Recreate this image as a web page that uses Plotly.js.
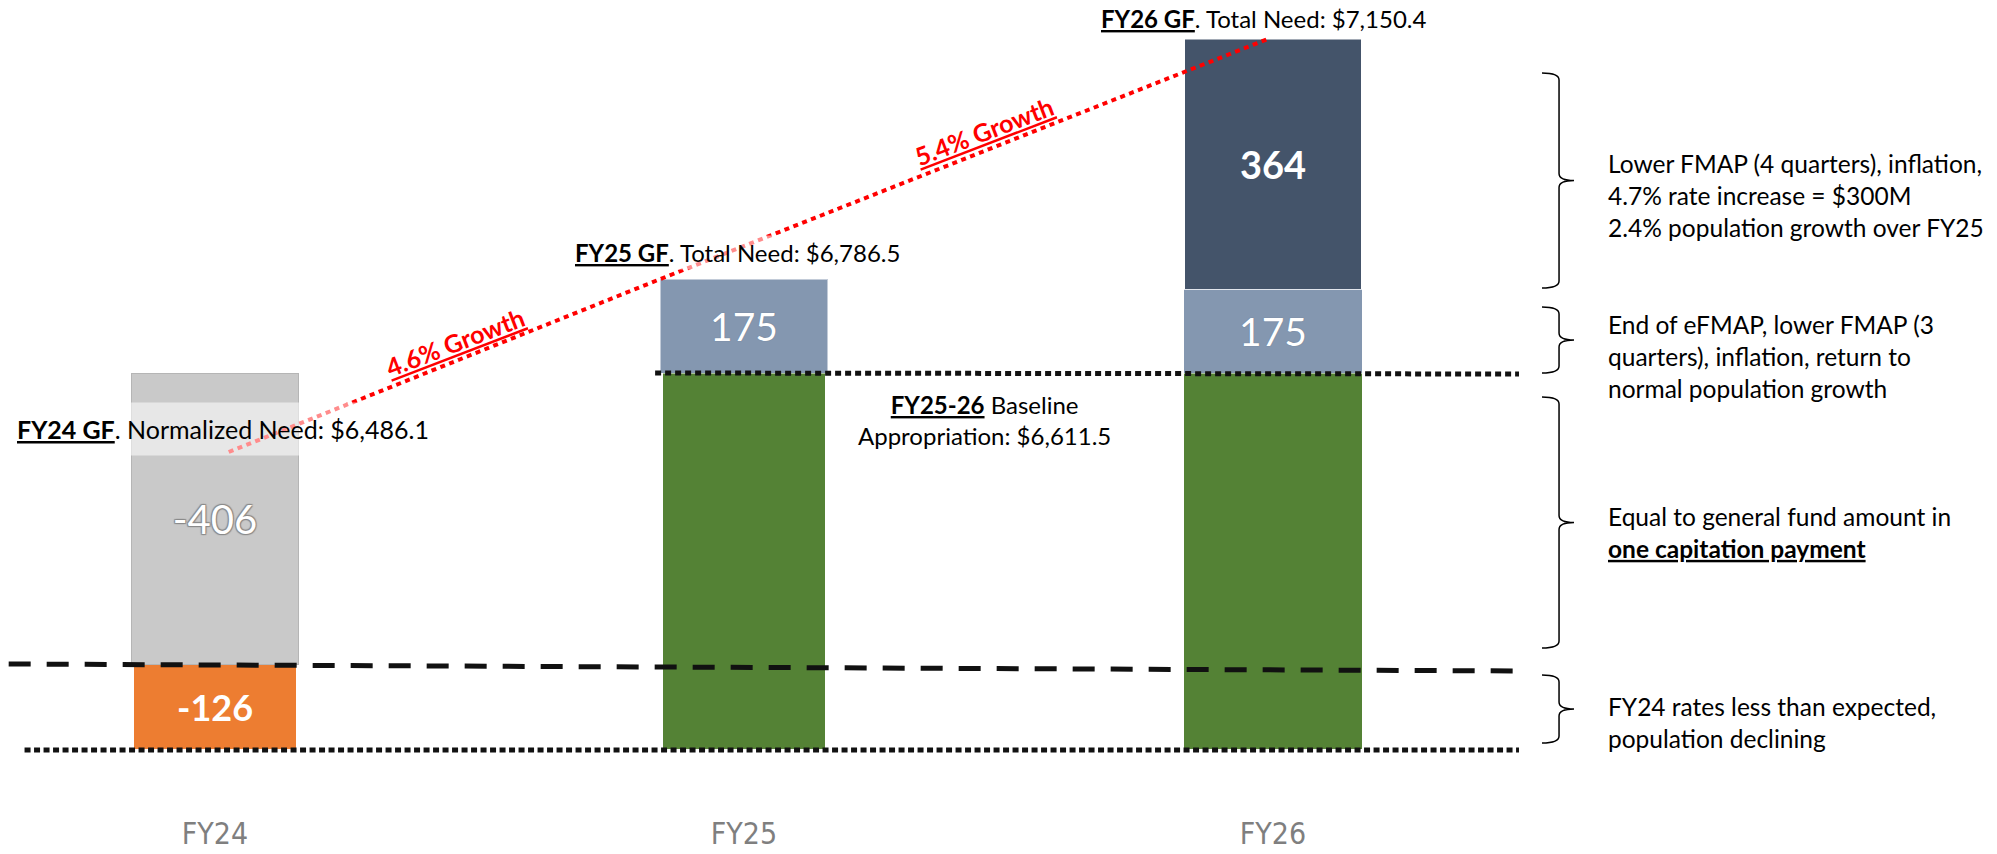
<!DOCTYPE html>
<html>
<head>
<meta charset="utf-8">
<script src="https://cdn.plot.ly/plotly-3.0.1.min.js"></script>
<style>
  html, body { margin: 0; padding: 0; background: #fff; }
  #plot { width: 1997px; height: 854px; }
</style>
</head>
<body>
<div id="plot"></div>
<script>
// Data (the slide is a schematic: block heights are the drawn heights, labels are $M)
var categories = ["FY24", "FY25", "FY26"];
var xPos = [0, 1, 2];

var fy24Labels = ["-126", "-406"];
var incLabels175 = ["175", "175"];
var incLabel364 = "364";

var orangeH = [85, null, null];
var grayH = [291, null, null];
var greenH = [null, 376, 376];
var blueH = [null, 94, 84];
var darkH = [null, null, 250];

var orangeW = [0.306, null, null];
var grayW = [0.314, null, null];
var greenW = [null, 0.305, 0.338];
var blueW = [null, 0.316, 0.338];
var darkW = [null, null, 0.333];

var growthStartY = 297;          // FY24 normalized need point
var braceTop = [676, 442, 352, 74];
var braceBottom = [461, 376, 101, 6];

var noteText = [
  "Lower FMAP (4 quarters), inflation,<br>4.7% rate increase = $300M<br>2.4% population growth over FY25",
  "End of eFMAP, lower FMAP (3<br>quarters), inflation, return to<br>normal population growth",
  "Equal to general fund amount in<br><b><u>one capitation payment</u></b>",
  "FY24 rates less than expected,<br>population declining"
];
var noteY = [554, 393, 217, 27];

// helpers
var outline = "1px 1px 1px #8a8a8a, -1px -1px 1px #8a8a8a, 1px -1px 1px #8a8a8a, -1px 1px 1px #8a8a8a";

function barTrace(h, w, color, labels, font, line) {
  return {
    type: "bar",
    x: xPos,
    y: h,
    width: w,
    text: labels,
    textposition: "inside",
    insidetextanchor: "middle",
    textangle: 0,
    constraintext: "none",
    insidetextfont: font,
    marker: { color: color, line: line || { width: 0 } },
    hoverinfo: "skip",
    showlegend: false
  };
}

var orange = barTrace(orangeH, orangeW, "#ed7d31", [fy24Labels[0], "", ""],
  { family: "Lato", size: 36, color: "#ffffff", weight: "bold" });
var green = barTrace(greenH, greenW, "#548235", ["", "", ""],
  { family: "Lato", size: 10, color: "#ffffff" });
var gray = barTrace(grayH, grayW, "#c9c9c9", [fy24Labels[1], "", ""],
  { family: "Lato", size: 40, color: "#ffffff", shadow: outline },
  { width: 1, color: "#b5b5b5" });
var blue = barTrace(blueH, blueW, "#8497b0", ["", incLabels175[0], incLabels175[1]],
  { family: "Lato", size: 39, color: "#ffffff", shadow: "0px 0px 1px #5b6b80" },
  { width: 1, color: "rgba(255,255,255,0.5)" });
var dark = barTrace(darkH, darkW, "#44546a", ["", "", incLabel364],
  { family: "Lato", size: 38, color: "#ffffff", weight: "bold" },
  { width: 1, color: "rgba(255,255,255,0.5)" });

// reference lines, taken from the block tops
var baselineTop = greenH[1];
var fy24Top = orangeH[0];
var lineLeft = -0.39, lineRight = 2.465;

var bottomLine = {
  type: "scatter", mode: "lines",
  x: [lineLeft + 0.03, lineRight], y: [-1, -1],
  line: { color: "#111", width: 5, dash: "6px,3.5px" },
  hoverinfo: "skip", showlegend: false
};
var dashedLine = {
  type: "scatter", mode: "lines",
  x: [lineLeft, lineRight], y: [fy24Top, fy24Top - 7],
  line: { color: "#111", width: 5, dash: "22px,16px" },
  hoverinfo: "skip", showlegend: false
};
var baselineLine = {
  type: "scatter", mode: "lines",
  x: [1 - blueW[1] / 2 - 0.01, lineRight], y: [baselineTop, baselineTop - 1],
  line: { color: "#111", width: 5, dash: "6px,4px" },
  hoverinfo: "skip", showlegend: false
};

var fy25Total = greenH[1] + blueH[1];
var fy26Total = greenH[2] + blueH[2] + darkH[2];
var growthLine = {
  type: "scatter", mode: "lines",
  x: [0.026, 1 - blueW[1] / 2, 1.99],
  y: [growthStartY, fy25Total, fy26Total],
  line: { color: "#ff0000", width: 4, dash: "5px,4.5px" },
  hoverinfo: "skip", showlegend: false
};

var data = [orange, green, gray, blue, dark, bottomLine, dashedLine, baselineLine, growthLine];

// annotations
var annotations = [
  {
    x: -0.38, y: 320, xref: "x", yref: "y", xanchor: "left", yanchor: "middle",
    text: "<b><u>FY24 GF</u></b>. Normalized Need: $6,486.1",
    showarrow: false, font: { family: "Lato", size: 25, color: "#000" },
    bgcolor: "rgba(255,255,255,0.55)", borderpad: 2, height: 48, valign: "middle"
  },
  {
    x: 0.674, y: 497, xref: "x", yref: "y", xanchor: "left", yanchor: "middle",
    text: "<b><u>FY25 GF</u></b>. Total Need: $6,786.5",
    showarrow: false, font: { family: "Lato", size: 24, color: "#000" },
    bgcolor: "rgba(255,255,255,0.55)", borderpad: 2
  },
  {
    x: 1.672, y: 731, xref: "x", yref: "y", xanchor: "left", yanchor: "middle",
    text: "<b><u>FY26 GF</u></b>. Total Need: $7,150.4",
    showarrow: false, font: { family: "Lato", size: 24, color: "#000" }
  },
  {
    x: 1.455, y: 329, xref: "x", yref: "y", xanchor: "center", yanchor: "middle",
    text: "<b><u>FY25-26</u></b> Baseline<br>Appropriation: $6,611.5",
    showarrow: false, font: { family: "Lato", size: 24, color: "#000" }
  },
  {
    x: 0.454, y: 407, xref: "x", yref: "y", xanchor: "center", yanchor: "middle",
    text: "<b><u>4.6% Growth</u></b>", textangle: -21,
    showarrow: false, font: { family: "Lato", size: 25, color: "#ff0000" }
  },
  {
    x: 1.454, y: 618, xref: "x", yref: "y", xanchor: "center", yanchor: "middle",
    text: "<b><u>5.4% Growth</u></b>", textangle: -21,
    showarrow: false, font: { family: "Lato", size: 25, color: "#ff0000" }
  }
];

noteText.forEach(function (t, i) {
  annotations.push({
    x: 2.629, y: noteY[i], xref: "x", yref: "y", xanchor: "left", yanchor: "middle",
    align: "left", text: t, showarrow: false,
    font: { family: "Lato", size: 24.5, color: "#000" }
  });
});

// curly braces on the right
var xArm = 2.5085, xSpine = 2.5407, xTip = 2.569, r = 7;
var shapes = braceTop.map(function (top, i) {
  var bot = braceBottom[i];
  var mid = (top + bot) / 2;
  var p = "M " + xArm + "," + top +
    " Q " + xSpine + "," + top + " " + xSpine + "," + (top - r) +
    " L " + xSpine + "," + (mid + r) +
    " Q " + xSpine + "," + mid + " " + xTip + "," + mid +
    " Q " + xSpine + "," + mid + " " + xSpine + "," + (mid - r) +
    " L " + xSpine + "," + (bot + r) +
    " Q " + xSpine + "," + bot + " " + xArm + "," + bot;
  return { type: "path", xref: "x", yref: "y", path: p, line: { color: "#000", width: 1.5 } };
});

var layout = {
  width: 1997,
  height: 854,
  margin: { l: 0, r: 0, t: 0, b: 99 },
  paper_bgcolor: "#ffffff",
  plot_bgcolor: "#ffffff",
  barmode: "stack",
  showlegend: false,
  font: { family: "Lato, sans-serif" },
  xaxis: {
    range: [-0.4064, 3.3686],
    tickvals: xPos,
    ticktext: categories,
    tickfont: { family: "Liberation Sans Narrow, DejaVu Sans Condensed, DejaVu Sans", size: 30, color: "#7f7f7f" },
    ticklabelstandoff: 58,
    ticks: "",
    showgrid: false, zeroline: false, showline: false
  },
  yaxis: {
    range: [-6, 749],
    showgrid: false, zeroline: false, showline: false, showticklabels: false
  },
  annotations: annotations,
  shapes: shapes
};

Plotly.newPlot("plot", data, layout, { displayModeBar: false, staticPlot: true });
</script>
</body>
</html>
